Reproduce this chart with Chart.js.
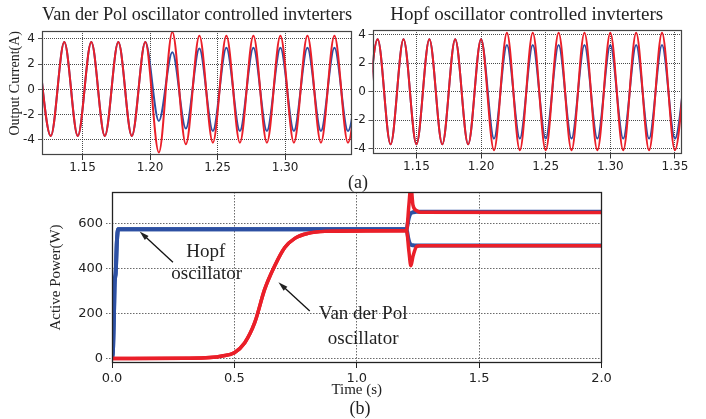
<!DOCTYPE html>
<html>
<head>
<meta charset="utf-8">
<title>Inverter output current and active power</title>
<script src="https://cdn.jsdelivr.net/npm/chart.js@4.4.1/dist/chart.umd.min.js"></script>
<style>
  html, body { margin: 0; padding: 0; background: #fff; }
  body { width: 706px; height: 419px; position: relative; overflow: hidden; }
  .box { position: absolute; }
  .cap {
    position: absolute; transform: translate(-50%, -50%);
    font-family: 'Liberation Serif', 'Times New Roman', serif; font-size: 18px; color: #222;
  }
</style>
</head>
<body>
<div class="box" style="left:0;top:0;width:362px;height:180px"><canvas id="vdpCurrent"></canvas></div>
<div class="box" style="left:340px;top:0;width:366px;height:180px"><canvas id="hopfCurrent"></canvas></div>
<div class="box" style="left:0;top:180px;width:706px;height:239px"><canvas id="activePower"></canvas></div>
<div class="cap" style="left:358px;top:182px">(a)</div>
<div class="cap" style="left:360px;top:408px">(b)</div>

<script>
// ---- (a) output currents, sampled at every positive / negative peak ----
const vdpPeakTime = [1.1165, 1.1265, 1.1365, 1.1465, 1.1565, 1.1665, 1.1765, 1.1865, 1.1965, 1.2065,
  1.2165, 1.2265, 1.2365, 1.2465, 1.2565, 1.2665, 1.2765, 1.2865, 1.2965, 1.3065,
  1.3165, 1.3265, 1.3365, 1.3465, 1.3565];
const vdpCurrent1 = [3.75, -3.7, 3.75, -3.7, 3.75, -3.7, 3.75, -3.7, 3.75, -5.0,
  4.55, -4.35, 4.25, -4.22, 4.25, -4.22, 4.25, -4.22, 4.25, -4.22,
  4.25, -4.22, 4.25, -4.22, 4.25];
const vdpCurrent2 = [3.75, -3.7, 3.75, -3.7, 3.75, -3.7, 3.75, -3.7, 3.75, -2.5,
  2.95, -3.1, 3.25, -3.3, 3.3, -3.3, 3.3, -3.3, 3.3, -3.3,
  3.3, -3.3, 3.3, -3.3, 3.3];

const hopfPeakTime = [1.11, 1.12, 1.13, 1.14, 1.15, 1.16, 1.17, 1.18, 1.19, 1.20,
  1.21, 1.22, 1.23, 1.24, 1.25, 1.26, 1.27, 1.28, 1.29, 1.30,
  1.31, 1.32, 1.33, 1.34, 1.35, 1.36];
const hopfCurrent1 = [-3.7, 3.7, -3.7, 3.7, -3.7, 3.7, -3.7, 3.7, -3.7, 3.7,
  -4.12, 4.16, -4.12, 4.16, -4.12, 4.16, -4.12, 4.16, -4.12, 4.16,
  -4.12, 4.16, -4.12, 4.16, -4.12, 4.16];
const hopfCurrent2 = [-3.7, 3.7, -3.7, 3.7, -3.7, 3.7, -3.7, 3.7, -3.7, 3.7,
  -3.3, 3.3, -3.3, 3.3, -3.3, 3.3, -3.3, 3.3, -3.3, 3.3,
  -3.3, 3.3, -3.3, 3.3, -3.3, 3.3];

const vdpTimeTicks = [1.15, 1.20, 1.25, 1.30];
const hopfTimeTicks = [1.15, 1.20, 1.25, 1.30, 1.35];
const currentTicks = [-4, -2, 0, 2, 4];

// ---- (b) active power of both inverters ----
const hopfPowerTime = [0, 0.004, 0.008, 0.011, 0.015, 0.02, 0.025, 1.2035, 1.21, 1.215, 1.22, 1.23, 1.245, 2.0];
const hopfPower1 = [0, 40, 200, 340, 380, 520, 575, 575, 612, 634, 645, 651, 653, 653];
const hopfPower2 = [0, 40, 200, 340, 380, 520, 575, 575, 538, 517, 508, 504, 503, 503];

const vdpPowerTime = [0, 0.3, 0.4, 0.45, 0.5, 0.5425, 0.583, 0.624, 0.665, 0.706, 0.747, 0.801, 0.87, 1.0,
  1.2035, 1.2131, 1.2213, 1.2295, 1.2446, 1.258, 2.0];
const vdpPower1 = [1, 2, 5, 12, 27, 71, 160, 309, 413, 494, 535, 557, 566, 568,
  569, 684, 770, 684, 658, 651, 650];
const vdpPower2 = [1, 2, 5, 12, 27, 71, 160, 309, 413, 494, 535, 557, 566, 568,
  569, 477, 413, 454, 499, 502, 502];

const powerTimeTicks = [0, 0.5, 1.0, 1.5, 2.0];
const powerTicks = [0, 200, 400, 600];

const RED = '#ea1f29';
const BLUE = '#2d50a3';
const SERIF = "'Liberation Serif', 'Times New Roman', serif";
const SANS = "'DejaVu Sans', Verdana, sans-serif";

const toPoints = (xs, ys) => xs.map((x, i) => ({ x, y: ys[i] }));
const fixedTicks = values => scale => { scale.ticks = values.map(value => ({ value })); };

// box around the plotting area
const framePlugin = {
  id: 'frame',
  afterDatasetsDraw(chart, args, opts) {
    const { ctx, chartArea: { left, top, right, bottom } } = chart;
    ctx.save();
    ctx.strokeStyle = opts.color;
    ctx.lineWidth = opts.width;
    ctx.strokeRect(Math.round(left) + 0.5, Math.round(top) + 0.5,
      Math.round(right - left) - 1, Math.round(bottom - top) - 1);
    ctx.restore();
  }
};

// text notes with arrows, placed in data coordinates
const notesPlugin = {
  id: 'notes',
  afterDatasetsDraw(chart, args, opts) {
    const { ctx, scales: { x, y } } = chart;
    ctx.save();
    ctx.font = opts.font;
    ctx.fillStyle = '#222';
    ctx.strokeStyle = '#111';
    ctx.lineWidth = 1.3;
    ctx.textAlign = 'center';
    ctx.textBaseline = 'middle';
    opts.labels.forEach(l => ctx.fillText(l.text, x.getPixelForValue(l.x), y.getPixelForValue(l.y)));
    opts.arrows.forEach(a => {
      const x1 = x.getPixelForValue(a.from[0]), y1 = y.getPixelForValue(a.from[1]);
      const x2 = x.getPixelForValue(a.to[0]), y2 = y.getPixelForValue(a.to[1]);
      const ang = Math.atan2(y2 - y1, x2 - x1);
      ctx.beginPath();
      ctx.moveTo(x1, y1);
      ctx.lineTo(x2 - 6 * Math.cos(ang), y2 - 6 * Math.sin(ang));
      ctx.stroke();
      ctx.beginPath();
      ctx.moveTo(x2, y2);
      ctx.lineTo(x2 - 10 * Math.cos(ang - 0.28), y2 - 10 * Math.sin(ang - 0.28));
      ctx.lineTo(x2 - 10 * Math.cos(ang + 0.28), y2 - 10 * Math.sin(ang + 0.28));
      ctx.closePath();
      ctx.fill();
    });
    ctx.restore();
  }
};

function lineSet(points, color, width) {
  return {
    data: points,
    borderColor: color,
    borderWidth: width,
    pointRadius: 0,
    fill: false,
    cubicInterpolationMode: 'monotone'
  };
}

// one of the two current panels in (a)
function currentChart(id, cfg) {
  return new Chart(document.getElementById(id), {
    type: 'line',
    data: {
      datasets: [
        lineSet(toPoints(cfg.time, cfg.red), RED, 2),   // first dataset is drawn on top
        lineSet(toPoints(cfg.time, cfg.blue), BLUE, 2)
      ]
    },
    options: {
      responsive: true,
      maintainAspectRatio: false,
      animation: false,
      layout: { padding: { left: 0, right: cfg.padRight, top: 0, bottom: 0 } },
      plugins: {
        legend: { display: false },
        tooltip: { enabled: false },
        title: {
          display: true,
          text: cfg.title,
          fullSize: false,
          color: '#222',
          font: { family: SERIF, size: 19, weight: 'normal' },
          padding: { top: cfg.titleTop, bottom: cfg.titleBottom }
        },
        frame: { color: '#444', width: 1.2 }
      },
      scales: {
        x: {
          type: 'linear',
          min: cfg.xMin,
          max: cfg.xMax,
          afterBuildTicks: fixedTicks(cfg.xTicks),
          ticks: {
            autoSkip: false,
            maxRotation: 0,
            padding: 1,
            color: '#222',
            font: { family: SANS, size: 12 },
            callback: v => v.toFixed(2)
          },
          grid: { color: 'rgba(30,30,30,0.8)', tickColor: '#333', tickLength: 5 },
          border: { display: false, dash: [1, 1] },
          afterFit: s => { s.height = cfg.xHeight; }
        },
        y: {
          min: cfg.yMin,
          max: cfg.yMax,
          afterBuildTicks: fixedTicks(currentTicks),
          ticks: {
            padding: cfg.yPad,
            color: '#222',
            font: { family: SANS, size: 12 }
          },
          grid: { color: 'rgba(30,30,30,0.8)', tickColor: '#555', tickLength: 4 },
          border: { display: false, dash: [1, 1] },
          title: {
            display: !!cfg.yTitle,
            text: cfg.yTitle,
            align: 'end',
            color: '#222',
            font: { family: SERIF, size: 14 },
            padding: { top: 7, bottom: 0 }
          },
          afterFit: s => { s.width = cfg.yWidth; }
        }
      }
    },
    plugins: [framePlugin]
  });
}

currentChart('vdpCurrent', {
  title: 'Van der Pol oscillator controlled invterters',
  time: vdpPeakTime, red: vdpCurrent1, blue: vdpCurrent2, xTicks: vdpTimeTicks,
  xMin: 1.12, xMax: 1.3495, yMin: -5.2, yMax: 4.63,
  yWidth: 42, xHeight: 25, padRight: 10, yPad: 3,
  titleTop: 4, titleBottom: 4.2,
  yTitle: 'Output Current(A)'
});

currentChart('hopfCurrent', {
  title: 'Hopf oscillator controlled invterters',
  time: hopfPeakTime, red: hopfCurrent1, blue: hopfCurrent2, xTicks: hopfTimeTicks,
  xMin: 1.116, xMax: 1.3547, yMin: -4.35, yMax: 4.35,
  yWidth: 32.5, xHeight: 26.5, padRight: 25, yPad: 2.5,
  titleTop: 4, titleBottom: 3.2,
  yTitle: ''
});

// (b) active power
new Chart(document.getElementById('activePower'), {
  type: 'line',
  data: {
    datasets: [
      lineSet(toPoints(vdpPowerTime, vdpPower1), RED, 3.5),
      lineSet(toPoints(vdpPowerTime, vdpPower2), RED, 3.5),
      lineSet(toPoints(hopfPowerTime, hopfPower1), BLUE, 4),
      lineSet(toPoints(hopfPowerTime, hopfPower2), BLUE, 4)
    ]
  },
  options: {
    responsive: true,
    maintainAspectRatio: false,
    animation: false,
    layout: { padding: { left: 0, right: 104.5, top: 12, bottom: 0 } },
    plugins: {
      legend: { display: false },
      tooltip: { enabled: false },
      frame: { color: '#222', width: 1.3 },
      notes: {
        font: '19px ' + SERIF,
        labels: [
          { text: 'Hopf', x: 0.383, y: 475 },
          { text: 'oscillator', x: 0.387, y: 377 },
          { text: 'Van der Pol', x: 1.026, y: 198 },
          { text: 'oscillator', x: 1.026, y: 86 }
        ],
        arrows: [
          { from: [0.249, 429], to: [0.113, 566] },
          { from: [0.808, 212], to: [0.68, 340] }
        ]
      }
    },
    scales: {
      x: {
        type: 'linear',
        min: 0,
        max: 2,
        afterBuildTicks: fixedTicks(powerTimeTicks),
        ticks: {
          maxRotation: 0,
          padding: 3,
          color: '#222',
          font: { family: SANS, size: 13 },
          callback: v => v.toFixed(1)
        },
        grid: { color: 'rgba(70,70,70,0.8)', tickColor: '#222', tickLength: 5 },
        border: { display: false, dash: [1.5, 1.5] },
        title: {
          display: true,
          text: 'Time (s)',
          color: '#222',
          font: { family: SERIF, size: 15 },
          padding: { top: 0, bottom: 20 }
        },
        afterFit: s => { s.height = 56; }
      },
      y: {
        min: -19,
        max: 741,
        afterBuildTicks: fixedTicks(powerTicks),
        ticks: {
          padding: 3,
          color: '#222',
          font: { family: SANS, size: 13 }
        },
        grid: { color: 'rgba(70,70,70,0.8)', tickColor: 'rgba(70,70,70,0.8)', tickLength: 6, tickBorderDash: [1.5, 1.5] },
        border: { display: false, dash: [1.5, 1.5] },
        title: {
          display: true,
          text: 'Active Power(W)',
          color: '#222',
          font: { family: SERIF, size: 15 },
          padding: { top: 47, bottom: 0 }
        },
        afterFit: s => { s.width = 112; }
      }
    }
  },
  plugins: [framePlugin, notesPlugin]
});
</script>
</body>
</html>
